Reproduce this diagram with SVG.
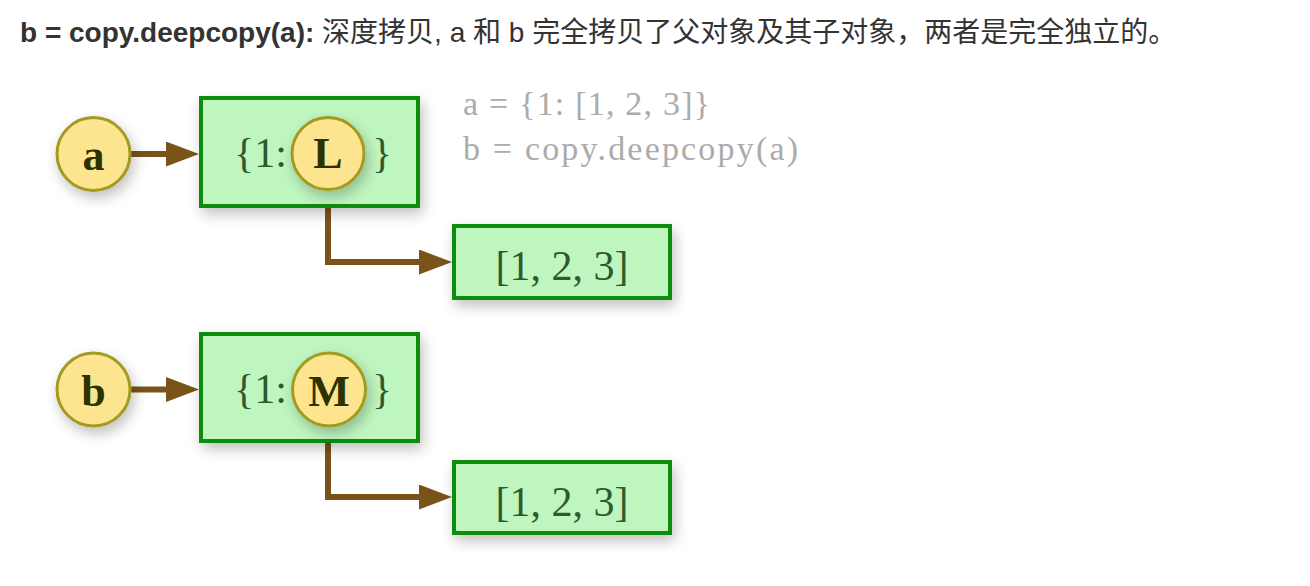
<svg xmlns="http://www.w3.org/2000/svg" width="1310" height="586" viewBox="0 0 1310 586">
  <style>
    .title { font-family: "Liberation Sans", "Noto Sans CJK SC", sans-serif; font-size: 28px; fill: #333333; }
    .box { fill: #bff6bf; stroke: #0f8c0f; stroke-width: 4; }
    .var { fill: #fde590; stroke: #a39a22; stroke-width: 3; }
    .vlabel { font-family: "Liberation Serif", serif; font-weight: bold; font-size: 44px; fill: #2b3300; text-anchor: middle; }
    .btext { font-family: "Liberation Serif", serif; font-size: 42px; fill: #2f5a2f; }
    .code { font-family: "Liberation Serif", serif; font-size: 34px; fill: #ababab; }
    .conn { fill: none; stroke: #7a531a; stroke-width: 6; marker-end: url(#arrow); }
  </style>
  <defs>
    <marker id="arrow" markerUnits="userSpaceOnUse" markerWidth="36" markerHeight="26" refX="2" refY="12.5" orient="auto">
      <path d="M0,0 L33,12.5 L0,25 Z" fill="#7a531a"/>
    </marker>
    <filter id="shadow" x="-30%" y="-30%" width="160%" height="170%">
      <feGaussianBlur in="SourceAlpha" stdDeviation="7"/>
      <feOffset dx="3" dy="6" result="b"/>
      <feComponentTransfer><feFuncA type="linear" slope="0.25"/></feComponentTransfer>
      <feMerge><feMergeNode/><feMergeNode in="SourceGraphic"/></feMerge>
    </filter>
  </defs>

  <text class="title" x="20" y="42"><tspan font-weight="bold">b = copy.deepcopy(a):</tspan> 深度拷贝, a 和 b 完全拷贝了父对象及其子对象，两者是完全独立的。</text>

  <g id="code-label">
    <text class="code" x="463" y="115" textLength="247" lengthAdjust="spacing">a = {1: [1, 2, 3]}</text>
    <text class="code" x="463" y="160" textLength="335" lengthAdjust="spacing">b = copy.deepcopy(a)</text>
  </g>

  <g id="connectors">
    <path class="conn" d="M131,154 H168"/>
    <path class="conn" d="M328,190 V262 H421"/>
    <path class="conn" d="M131,389.5 H168"/>
    <path class="conn" d="M328,426 V497 H421"/>
  </g>

  <g id="dict-a">
    <rect class="box" x="201" y="98" width="217" height="108" filter="url(#shadow)"/>
    <text class="btext" x="234" y="167">{1:</text>
    <text class="btext" x="372" y="167">}</text>
  </g>
  <g id="var-L">
    <circle class="var" cx="328" cy="153.5" r="36" filter="url(#shadow)"/>
    <text class="vlabel" x="328" y="168">L</text>
  </g>
  <g id="var-a">
    <circle class="var" cx="93.5" cy="154" r="36.5" filter="url(#shadow)"/>
    <text class="vlabel" x="93.5" y="170" font-size="50">a</text>
  </g>
  <g id="list-a">
    <rect class="box" x="454" y="226" width="216" height="72" filter="url(#shadow)"/>
    <text class="btext" x="562" y="280" text-anchor="middle">[1, 2, 3]</text>
  </g>

  <g id="dict-b">
    <rect class="box" x="201" y="334" width="217" height="107" filter="url(#shadow)"/>
    <text class="btext" x="234" y="403">{1:</text>
    <text class="btext" x="372" y="403">}</text>
  </g>
  <g id="var-M">
    <circle class="var" cx="329" cy="389.5" r="36.5" filter="url(#shadow)"/>
    <text class="vlabel" x="329" y="406">M</text>
  </g>
  <g id="var-b">
    <circle class="var" cx="93.5" cy="389.5" r="36.5" filter="url(#shadow)"/>
    <text class="vlabel" x="93.5" y="406">b</text>
  </g>
  <g id="list-b">
    <rect class="box" x="454" y="462" width="216" height="71" filter="url(#shadow)"/>
    <text class="btext" x="562" y="516" text-anchor="middle">[1, 2, 3]</text>
  </g>
</svg>
